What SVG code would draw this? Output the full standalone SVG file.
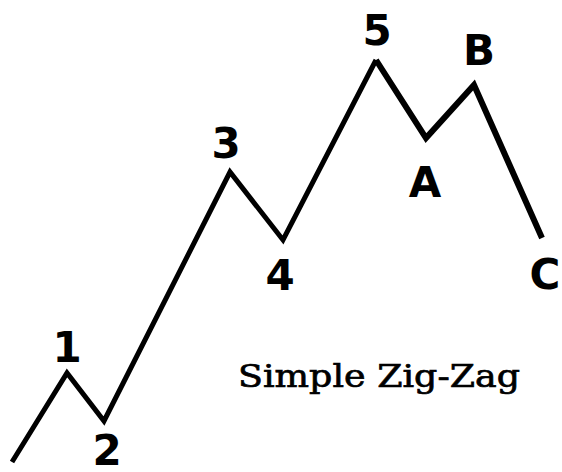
<svg xmlns="http://www.w3.org/2000/svg" width="562" height="472" viewBox="0 0 562 472">
<style>
.lbl{font-family:"DejaVu Sans",Verdana,sans-serif;font-weight:bold;font-size:42px;fill:#000;text-anchor:middle}
.ttl{font-family:"DejaVu Serif",serif;font-size:32px;fill:#000;stroke:#000;stroke-width:0.7}
.wave{fill:none;stroke:#000;stroke-linejoin:miter;stroke-linecap:butt}
</style>
<rect width="562" height="472" fill="#fff"/>
<g id="connectors">
<polyline class="wave" stroke-width="5" points="12,462 67,373 104,421 230,172 283,240 376,60"/>
<polyline class="wave" stroke-width="6" points="376,60 426,138 474,85 542,238"/>
</g>
<g id="p1"><text class="lbl" x="67" y="362">1</text></g>
<g id="p2"><text class="lbl" x="107" y="465">2</text></g>
<g id="p3"><text class="lbl" x="226" y="158">3</text></g>
<g id="p4"><text class="lbl" x="280" y="290">4</text></g>
<g id="p5"><text class="lbl" x="377" y="45">5</text></g>
<g id="pA"><text class="lbl" x="425" y="197">A</text></g>
<g id="pB"><text class="lbl" x="479" y="65">B</text></g>
<g id="pC"><text class="lbl" x="545" y="289">C</text></g>
<g id="title"><text class="ttl" x="238" y="387" textLength="282" lengthAdjust="spacingAndGlyphs">Simple Zig-Zag</text></g>
</svg>
